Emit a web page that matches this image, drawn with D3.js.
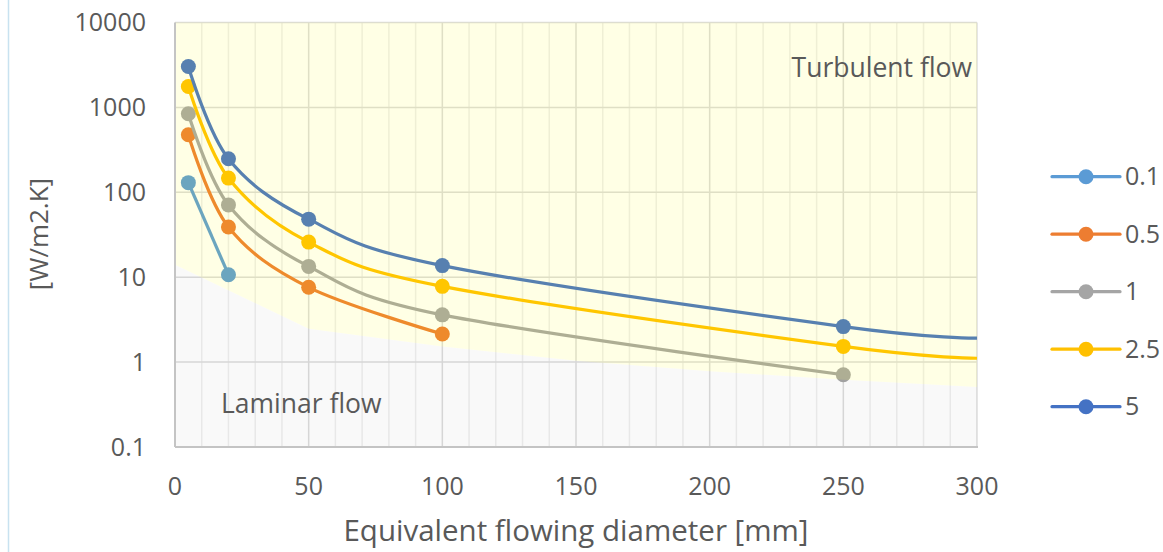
<!DOCTYPE html>
<html><head><meta charset="utf-8">
<script src="https://cdn.jsdelivr.net/npm/d3@7"></script>
<style>
html,body{margin:0;padding:0;background:#fff;}
svg{display:block;font-family:"Open Sans",sans-serif;}
</style></head>
<body><svg id="chart" width="1163" height="552"></svg>
<script>
// ---- data ----
const seriesNames = ["0.1", "0.5", "1", "2.5", "5"];
const seriesColors = ["#5B9BD5", "#ED7D31", "#A5A5A5", "#FFC000", "#4472C4"];
const diam01 = [5, 20];
const vals01 = [130, 10.7];
const diam05 = [5, 20, 50, 100];
const vals05 = [476, 39, 7.6, 2.14];
const diam1 = [5, 20, 50, 100, 250];
const vals1 = [841, 71, 13.4, 3.6, 0.71];
const diam25 = [5, 20, 50, 100, 250, 300];
const vals25 = [1762, 147, 25.9, 7.8, 1.53, 1.11];
const diam5 = [5, 20, 50, 100, 250, 300];
const vals5 = [3034, 248, 48.3, 13.7, 2.62, 1.92];
const markerDiams = [5, 20, 50, 100, 250];
const boundaryX = [0, 50, 100, 150, 200, 250, 300];
const boundaryY = [14, 2.47, 1.53, 1.04, 0.78, 0.62, 0.51];
const xTicks = [0, 50, 100, 150, 200, 250, 300];
const xMinorTicks = d3.range(0, 301, 10);
const yTicks = [0.1, 1, 10, 100, 1000, 10000];
const yTickLabels = ["0.1", "1", "10", "100", "1000", "10000"];

const series = [
  {name: seriesNames[0], xs: diam01, ys: vals01},
  {name: seriesNames[1], xs: diam05, ys: vals05},
  {name: seriesNames[2], xs: diam1, ys: vals1},
  {name: seriesNames[3], xs: diam25, ys: vals25},
  {name: seriesNames[4], xs: diam5, ys: vals5}
];

// ---- layout ----
const svg = d3.select("#chart");
const L = 175, R = 977, T = 22.5, B = 447;
const x = d3.scaleLinear().domain([0, 300]).range([L, R]);
const y = d3.scaleLog().domain([0.1, 10000]).range([B, T]);
const textColor = "#595959";

// light blue frame line at left
svg.append("line").attr("x1", 8.5).attr("x2", 8.5).attr("y1", 0).attr("y2", 552)
  .attr("stroke", "#C8E2F0").attr("stroke-width", 1.5);

// plot background
svg.append("rect").attr("x", L).attr("y", T).attr("width", R - L).attr("height", B - T).attr("fill", "#fff");

// gridlines
const g = svg.append("g");
g.selectAll(".vminor").data(xMinorTicks.filter(d => d % 50 !== 0)).join("line")
  .attr("x1", d => x(d)).attr("x2", d => x(d)).attr("y1", T).attr("y2", B)
  .attr("stroke", "#EEEEEE").attr("stroke-width", 1.5);
g.selectAll(".vmajor").data(xTicks.filter(d => d > 0)).join("line")
  .attr("x1", d => x(d)).attr("x2", d => x(d)).attr("y1", T).attr("y2", B)
  .attr("stroke", "#DCDCDC").attr("stroke-width", 1.5);
g.selectAll(".hmajor").data(yTicks.filter(d => d > 0.1)).join("line")
  .attr("x1", L).attr("x2", R).attr("y1", d => y(d)).attr("y2", d => y(d))
  .attr("stroke", "#DCDCDC").attr("stroke-width", 1.5);

// series lines
const line = d3.line().x(d => x(d[0])).y(d => y(d[1])).curve(d3.curveCardinal.tension(0));
series.forEach((s, i) => {
  const pts = s.xs.map((v, j) => [v, s.ys[j]]);
  svg.append("path").attr("d", line(pts)).attr("fill", "none")
    .attr("stroke", seriesColors[i]).attr("stroke-width", 3.2).attr("stroke-linejoin", "round");
  svg.selectAll(null).data(pts.filter(p => markerDiams.includes(p[0]))).join("circle")
    .attr("cx", d => x(d[0])).attr("cy", d => y(d[1])).attr("r", 7.5)
    .attr("fill", seriesColors[i]);
});

// flow regime overlays (semi-transparent, on top of lines)
const bpts = boundaryX.map((v, j) => [v, boundaryY[j]]);
const turb = d3.area().x(d => x(d[0])).y0(T).y1(d => y(d[1]));
const lam = d3.area().x(d => x(d[0])).y0(B).y1(d => y(d[1]));
svg.append("path").attr("d", turb(bpts)).attr("fill", "#FFFF00").attr("fill-opacity", 0.1);
svg.append("path").attr("d", lam(bpts)).attr("fill", "#000").attr("fill-opacity", 0.022);

// axis lines
svg.append("line").attr("x1", L).attr("x2", L).attr("y1", T).attr("y2", B)
  .attr("stroke", "#C4C4C4").attr("stroke-width", 2);
svg.append("line").attr("x1", L).attr("x2", R + 1).attr("y1", B).attr("y2", B)
  .attr("stroke", "#C4C4C4").attr("stroke-width", 2);

// tick labels
svg.selectAll(".yt").data(yTicks).join("text")
  .attr("x", 146).attr("y", d => y(d)).attr("dy", "0.35em").attr("text-anchor", "end")
  .attr("font-size", 25).attr("fill", textColor).text((d, i) => yTickLabels[i]);
svg.selectAll(".xt").data(xTicks).join("text")
  .attr("x", d => x(d)).attr("y", 486).attr("dy", "0.35em").attr("text-anchor", "middle")
  .attr("font-size", 25).attr("fill", textColor).text(d => d);

// axis titles
svg.append("text").attr("x", (L + R) / 2).attr("y", 531).attr("dy", "0.35em").attr("text-anchor", "middle")
  .attr("font-size", 29.5).attr("fill", textColor).text("Equivalent flowing diameter [mm]");
svg.append("text").attr("transform", "translate(39,234) rotate(-90)").attr("dy", "0.35em")
  .attr("text-anchor", "middle").attr("font-size", 26).attr("fill", textColor).text("[W/m2.K]");

// region labels
svg.append("text").attr("x", 972).attr("y", 77).attr("text-anchor", "end")
  .attr("font-size", 26.5).attr("fill", textColor).text("Turbulent flow");
svg.append("text").attr("x", 221).attr("y", 413).attr("text-anchor", "start")
  .attr("font-size", 26.5).attr("fill", textColor).text("Laminar flow");

// legend
const legY0 = 176.7, legDy = 57.5;
const leg = svg.append("g");
seriesNames.forEach((n, i) => {
  const yy = legY0 + i * legDy;
  leg.append("line").attr("x1", 1052).attr("x2", 1120).attr("y1", yy).attr("y2", yy)
    .attr("stroke", seriesColors[i]).attr("stroke-width", 3.2).attr("stroke-linecap", "round");
  leg.append("circle").attr("cx", 1086).attr("cy", yy).attr("r", 7.5).attr("fill", seriesColors[i]);
  leg.append("text").attr("x", 1125).attr("y", yy).attr("dy", "0.35em")
    .attr("font-size", 25).attr("fill", textColor).text(n);
});
</script></body></html>
